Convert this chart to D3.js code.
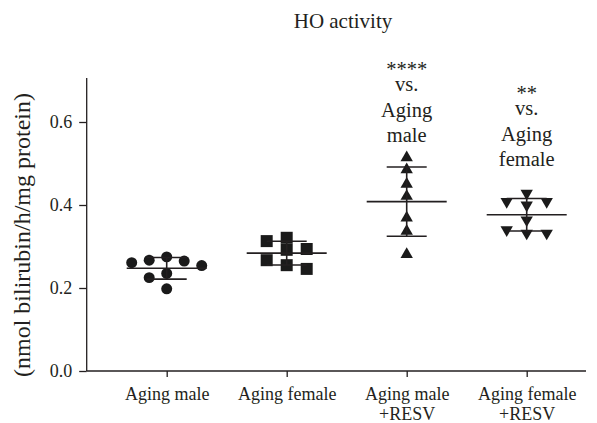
<!DOCTYPE html>
<html>
<head>
<meta charset="utf-8">
<script src="https://cdn.jsdelivr.net/npm/d3@7"></script>
<style>
  body { margin: 0; background: #fff; }
  text { font-family: "Liberation Serif", "Times New Roman", serif; fill: #231f20; }
</style>
</head>
<body>
<div id="chart"></div>
<script>
// values
const groups = ["Aging male", "Aging female", "Aging male\n+RESV", "Aging female\n+RESV"];
const agingMale = [0.254, 0.275, 0.265, 0.267, 0.261, 0.235, 0.225, 0.198];
const agingFemale = [0.313, 0.246, 0.292, 0.267, 0.321, 0.294, 0.255];
const agingMaleResv = [0.514, 0.485, 0.450, 0.421, 0.369, 0.337, 0.281];
const agingFemaleResv = [0.408, 0.428, 0.408, 0.400, 0.364, 0.332, 0.340, 0.332];
const yTicks = [0.0, 0.2, 0.4, 0.6];
const notes = [["****", "vs.", "Aging", "male"], ["**", "vs.", "Aging", "female"]];
const noteGroups = [2, 3];

const series = [agingMale, agingFemale, agingMaleResv, agingFemaleResv];
const markers = [
  {type: d3.symbolCircle, size: 95, step: 17.5, rot: 0},
  {type: d3.symbolSquare, size: 144, step: 20, rot: 0},
  {type: d3.symbolTriangle, size: 66, step: 20, rot: 0},
  {type: d3.symbolTriangle, size: 66, step: 20, rot: 180}
];

const width = 597, height = 423;
const margin = {left: 86.7, right: 11, top: 80.5, bottom: 52};
const svg = d3.select('#chart').append('svg').attr('width', width).attr('height', height);

const y = d3.scaleLinear().domain([0, 0.7]).range([height - margin.bottom, margin.top]);
const x = d3.scalePoint().domain(groups).range([166.7, 526.7]);
const ink = '#231f20';

// y axis
let yAxis = svg.append('g')
  .attr('transform', 'translate(' + margin.left + ',0)')
  .call(d3.axisLeft(y).tickValues(yTicks).tickFormat(d3.format('.1f')).tickSize(7.5).tickSizeOuter(0).tickPadding(7));
yAxis.select('.domain').attr('stroke', ink).attr('stroke-width', 1.3).attr('d', 'M0,' + y(0) + 'V' + (margin.top - 2.5));
yAxis.selectAll('.tick line').attr('stroke', ink).attr('stroke-width', 1.3);
yAxis.selectAll('.tick text').attr('font-size', 18).attr('font-family', null);

// x axis
let xAxis = svg.append('g')
  .attr('transform', 'translate(0,' + y(0) + ')')
  .call(d3.axisBottom(x).tickSize(6).tickSizeOuter(0).tickFormat(''));
xAxis.select('.domain').attr('stroke', ink).attr('stroke-width', 1.3).attr('d', 'M' + margin.left + ',0H' + (width - margin.right));
xAxis.selectAll('.tick line').attr('stroke', ink).attr('stroke-width', 1.3);
xAxis.selectAll('.tick').append('text')
  .attr('font-size', 18).attr('text-anchor', 'middle')
  .selectAll('tspan').data(d => d.split('\n')).enter().append('tspan')
  .attr('x', 0).attr('y', (d, i) => 29 + i * 20)
  .text(d => d);

// y label + title
svg.append('text')
  .attr('transform', 'translate(30,235) rotate(-90)')
  .attr('text-anchor', 'middle').attr('font-size', 24)
  .text('(nmol bilirubin/h/mg protein)');
svg.append('text')
  .attr('x', 343).attr('y', 28).attr('text-anchor', 'middle').attr('font-size', 21)
  .text('HO activity');

// spread points sideways where they would overlap
function swarm(values, minGap) {
  let order = d3.range(values.length).sort((a, b) => values[b] - values[a]);
  let placed = [], slots = [];
  order.forEach(i => {
    let py = y(values[i]);
    for (let k = 0; ; k++) {
      let s = k === 0 ? 0 : (k % 2 ? -Math.ceil(k / 2) : Math.ceil(k / 2));
      if (!placed.some(p => p.s === s && Math.abs(p.y - py) < minGap)) {
        slots[i] = s;
        placed.push({s: s, y: py});
        break;
      }
    }
  });
  return slots;
}

series.forEach((vals, gi) => {
  let cx = x(groups[gi]);
  let m = markers[gi];
  let slots = swarm(vals, 11.5);
  let g = svg.append('g');
  let sym = d3.symbol().type(m.type).size(m.size);
  g.selectAll('path.pt').data(vals).enter().append('path')
    .attr('class', 'pt')
    .attr('d', sym)
    .attr('fill', '#1a1a1a')
    .attr('transform', (d, i) => 'translate(' + (cx + slots[i] * m.step) + ',' + y(d) + ') rotate(' + m.rot + ')');

  let mean = d3.mean(vals), sd = d3.deviation(vals);
  let lines = [
    [cx - 40, y(mean), cx + 40, y(mean)],
    [cx - 20, y(mean + sd), cx + 20, y(mean + sd)],
    [cx - 20, y(mean - sd), cx + 20, y(mean - sd)],
    [cx, y(mean - sd), cx, y(mean + sd)]
  ];
  g.selectAll('line').data(lines).enter().append('line')
    .attr('x1', d => d[0]).attr('y1', d => d[1]).attr('x2', d => d[2]).attr('y2', d => d[3])
    .attr('stroke', ink).attr('stroke-width', 1.6);
});

// significance notes
const noteLineY = [0, 14, 39.5, 64.5];
notes.forEach((lines, ni) => {
  let cx = x(groups[noteGroups[ni]]);
  let top = 76 + ni * 24;
  svg.append('g').selectAll('text').data(lines).enter().append('text')
    .attr('x', cx).attr('y', (d, i) => top + noteLineY[i] + (i ? 1 : 0))
    .attr('text-anchor', 'middle').attr('font-size', 20.5)
    .text(d => d);
});
</script>
</body>
</html>
